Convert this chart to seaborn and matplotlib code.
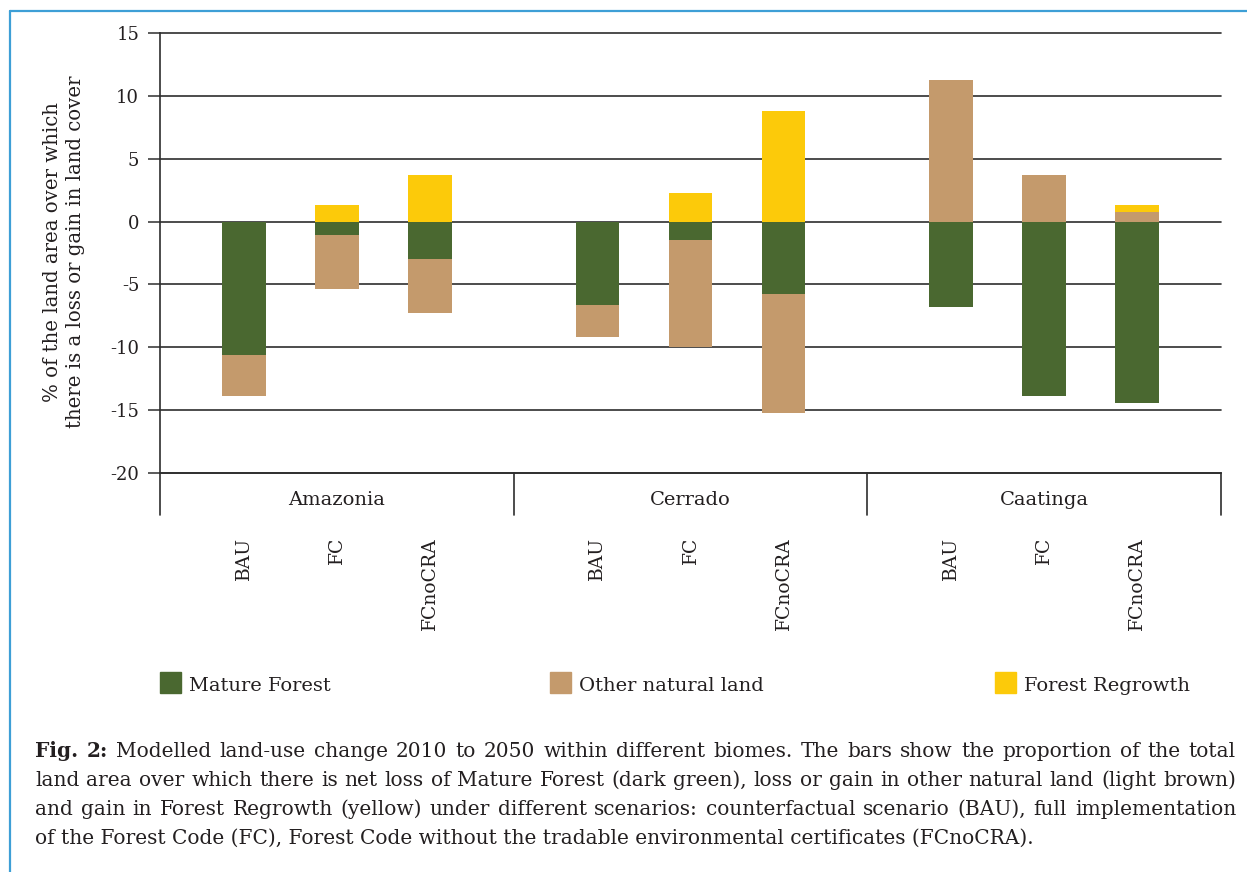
import matplotlib
matplotlib.use("Agg")
import numpy as np
import pandas as pd
import seaborn as sns
import matplotlib.pyplot as plt
from matplotlib.patches import Rectangle
from matplotlib.lines import Line2D

# values (% of land area, 2010 -> 2050)
biomes = ["Amazonia", "Cerrado", "Caatinga"]
scenarios = ["BAU", "FC", "FCnoCRA"]
mature_forest = [-10.6, -1.1, -3.0, -6.6, -1.5, -5.8, -6.8, -13.9, -14.4]
other_natural = [-3.3, -4.3, -4.3, -2.6, -8.5, -9.4, 11.3, 3.7, 0.75]
forest_regrowth = [0, 1.3, 3.7, 0, 2.3, 8.8, 0, 0, 0.55]
y_ticks = [15, 10, 5, 0, -5, -10, -15, -20]
legend_labels = ["Mature Forest", "Other natural land", "Forest Regrowth"]
ylabel_text = "% of the land area over which\nthere is a loss or gain in land cover"
caption_lines = [
    "Fig. 2: Modelled land-use change 2010 to 2050 within different biomes. The bars show the proportion of the total",
    "land area over which there is net loss of Mature Forest (dark green), loss or gain in other natural land (light brown)",
    "and gain in Forest Regrowth (yellow) under different scenarios: counterfactual scenario (BAU), full implementation",
    "of the Forest Code (FC), Forest Code without the tradable environmental certificates (FCnoCRA).",
]

GREEN = "#4a6830"
BROWN = "#c49a6c"
YELLOW = "#fcca0a"
LINE = "#2e2e2e"
TEXT = "#231f20"
FRAME = "#3d9fd6"

sns.set_theme(style="white")
plt.rcParams["font.family"] = ["DejaVu Serif"]
plt.rcParams["text.color"] = TEXT
plt.rcParams["xtick.color"] = TEXT
plt.rcParams["ytick.color"] = TEXT
plt.rcParams["axes.unicode_minus"] = False

W_PX, H_PX, DPI = 1247, 872, 100
fig = plt.figure(figsize=(W_PX / DPI, H_PX / DPI), dpi=DPI)


def fx(px):
    return px / W_PX


def fy(px):
    return 1 - px / H_PX


ax = fig.add_axes([fx(160), fy(473), fx(1221) - fx(160), fy(33) - fy(473)])

GROUP_W = 3.8
pos = [g * GROUP_W + 0.9 + j for g in range(3) for j in range(3)]
df = pd.DataFrame({
    "biome": np.repeat(biomes, 3),
    "scenario": scenarios * 3,
    "pos": pos,
    "mature": mature_forest,
    "other": other_natural,
    "regrowth": forest_regrowth,
})
df["neg_total"] = df["mature"] + df["other"].clip(upper=0)
df["pos_other"] = df["other"].clip(lower=0)
df["pos_total"] = df["pos_other"] + df["regrowth"]

# stacked look: draw cumulative totals first, then the inner part on top
for col, c in [("neg_total", BROWN), ("mature", GREEN),
               ("pos_total", YELLOW), ("pos_other", BROWN)]:
    sns.barplot(data=df, x="pos", y=col, native_scale=True, orient="x",
                color=c, saturation=1, width=0.47, errorbar=None,
                linewidth=0, ax=ax)

ax.set_xlim(0, 3 * GROUP_W)
ax.set_ylim(-20, 15)
ax.set_yticks(y_ticks)
ax.set_xticks(pos, labels=scenarios * 3, rotation=90, fontsize=13.5)
ax.set_xlabel("")
ax.set_ylabel("")
ax.tick_params(axis="x", length=0, pad=46)
ax.tick_params(axis="y", length=9, width=1.1, color=LINE, pad=6, labelsize=13, left=True)
ax.yaxis.grid(True, color=LINE, lw=1.2)
ax.xaxis.grid(False)
ax.set_axisbelow(True)
for l in ax.get_ygridlines():
    l.set_clip_on(False)
for s in ["top", "right"]:
    ax.spines[s].set_visible(False)
for s in ["left", "bottom"]:
    ax.spines[s].set_color(LINE)
    ax.spines[s].set_linewidth(1.2)

# biome group dividers and names under the axis
trans = ax.get_xaxis_transform()
for g in range(4):
    ax.plot([g * GROUP_W] * 2, [0, -42 / 440], transform=trans,
            color=LINE, lw=1.2, clip_on=False)
for g, b in enumerate(biomes):
    ax.text(g * GROUP_W + GROUP_W / 2, -27 / 440, b, transform=trans,
            ha="center", va="center", fontsize=14)

fig.text(fx(64), fy(252), ylabel_text, rotation=90, ha="center", va="center",
         multialignment="center", fontsize=14.2, linespacing=1.25)

# legend
for xpx, lbl, c in zip([160, 550, 995], legend_labels, [GREEN, BROWN, YELLOW]):
    fig.add_artist(Rectangle((fx(xpx), fy(693)), 21 / W_PX, 21 / H_PX,
                             color=c, transform=fig.transFigure))
    fig.text(fx(xpx + 29), fy(691), lbl, va="baseline", fontsize=14)

# caption, justified between x=35 and x=1236
CAP_SIZE = 14.5
renderer = fig.canvas.get_renderer()


def caption_line(text, y_px, justify=True, n_bold=0):
    if not justify:
        fig.text(fx(35), fy(y_px), text, fontsize=CAP_SIZE, va="baseline")
        return
    words = text.split()
    arts = [fig.text(0, fy(y_px), w, fontsize=CAP_SIZE, va="baseline",
                     weight="bold" if i < n_bold else "normal")
            for i, w in enumerate(words)]
    widths = [a.get_window_extent(renderer).width for a in arts]
    gap = (1236 - 35 - sum(widths)) / (len(words) - 1)
    x = 35
    for a, w in zip(arts, widths):
        a.set_x(fx(x))
        x += w + gap


caption_line(caption_lines[0], 757, n_bold=2)
caption_line(caption_lines[1], 786)
caption_line(caption_lines[2], 815)
caption_line(caption_lines[3], 844, justify=False)

# light blue frame (top and left edges visible)
fig.add_artist(Line2D([fx(10), 1], [fy(11), fy(11)], color=FRAME, lw=1.6,
                      transform=fig.transFigure))
fig.add_artist(Line2D([fx(10), fx(10)], [fy(11), 0], color=FRAME, lw=1.6,
                      transform=fig.transFigure))

fig.savefig("out.png", dpi=DPI)
